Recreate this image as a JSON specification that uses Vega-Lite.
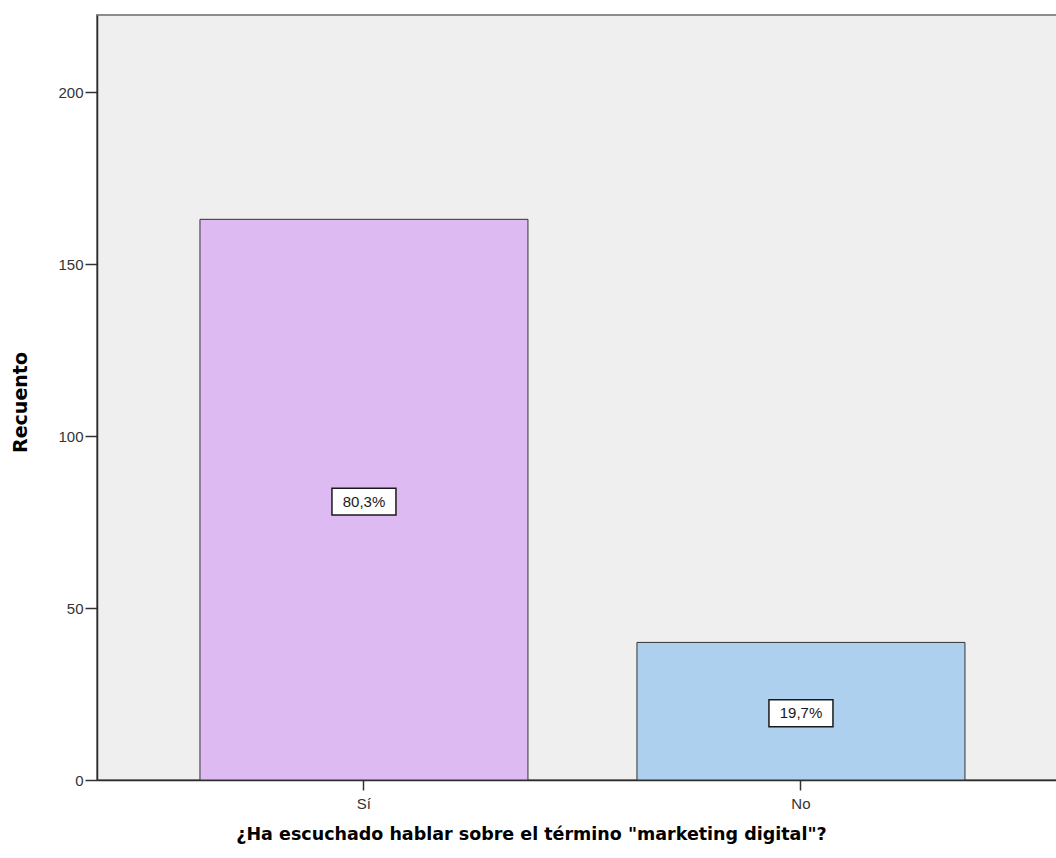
{
  "$schema": "https://vega.github.io/schema/vega-lite/v6.json",
  "autosize": "none",
  "width": 960,
  "height": 765,
  "padding": {"left": 97, "top": 15, "right": 0, "bottom": 78},
  "background": "white",
  "config": {
    "font": "Liberation Sans",
    "locale": {
      "number": {"decimal": ",", "thousands": ".", "grouping": [3], "currency": ["", " €"]}
    },
    "view": {"fill": "#EFEFEF", "stroke": "#8C8C8C", "strokeWidth": 2}
  },
  "data": {
    "values": [
      {"respuesta": "Sí", "recuento": 163, "porcentaje": 0.803},
      {"respuesta": "No", "recuento": 40, "porcentaje": 0.197}
    ]
  },
  "encoding": {
    "x": {
      "field": "respuesta",
      "type": "nominal",
      "sort": ["Sí", "No"],
      "scale": {"paddingInner": 0.2494, "paddingOuter": 0.2231, "align": 0.528},
      "axis": {
        "title": "¿Ha escuchado hablar sobre el término \"marketing digital\"?",
        "titleFont": "DejaVu Sans",
        "titleFontSize": 17.5,
        "titleFontWeight": "bold",
        "titleColor": "#000000",
        "titleX": 434,
        "titleY": 45,
        "titleAlign": "center",
        "titleBaseline": "top",
        "titleAnchor": null,
        "labelAngle": 0,
        "labelFontSize": 15,
        "labelColor": "#333333",
        "labelPadding": 6,
        "tickSize": 10,
        "tickColor": "#333333",
        "tickWidth": 1.5,
        "domainColor": "#2B2B2B",
        "domainWidth": 1.5
      }
    }
  },
  "layer": [
    {
      "mark": {"type": "bar", "stroke": "#333333", "strokeWidth": 1},
      "encoding": {
        "y": {
          "field": "recuento",
          "type": "quantitative",
          "scale": {"domain": [0, 222.4], "nice": false},
          "axis": {
            "values": [0, 50, 100, 150, 200],
            "grid": false,
            "title": "Recuento",
            "titleFont": "DejaVu Sans",
            "titleFontSize": 19,
            "titleFontWeight": "bold",
            "titleColor": "#000000",
            "titleAngle": -90,
            "titleX": -77,
            "titleY": 387,
            "titleAlign": "center",
            "titleBaseline": "middle",
            "titleAnchor": null,
            "labelFontSize": 15,
            "labelColor": "#333333",
            "labelPadding": 2,
            "tickSize": 12,
            "tickColor": "#333333",
            "tickWidth": 1.5,
            "domainColor": "#2B2B2B",
            "domainWidth": 1.5
          }
        },
        "color": {
          "field": "respuesta",
          "type": "nominal",
          "scale": {"domain": ["Sí", "No"], "range": ["#DDBAF1", "#ACD0EE"]},
          "legend": null
        }
      }
    },
    {
      "encoding": {
        "y": {
          "field": "recuento",
          "type": "quantitative",
          "scale": {"domain": [0, 444.8], "nice": false},
          "axis": null
        }
      },
      "layer": [
        {
          "mark": {
            "type": "point",
            "shape": "M-1,-0.42L1,-0.42L1,0.42L-1,0.42Z",
            "size": 4096,
            "filled": true,
            "fill": "#FFFFFF",
            "fillOpacity": 1,
            "stroke": "#1A1A1A",
            "strokeWidth": 1.5,
            "opacity": 1,
            "yOffset": 2
          }
        },
        {
          "mark": {
            "type": "text",
            "fontSize": 15,
            "color": "#1A1A1A",
            "align": "center",
            "baseline": "middle",
            "yOffset": 2
          },
          "encoding": {
            "text": {"field": "porcentaje", "type": "quantitative", "format": ".1%"}
          }
        }
      ]
    }
  ],
  "resolve": {"scale": {"y": "independent"}}
}
